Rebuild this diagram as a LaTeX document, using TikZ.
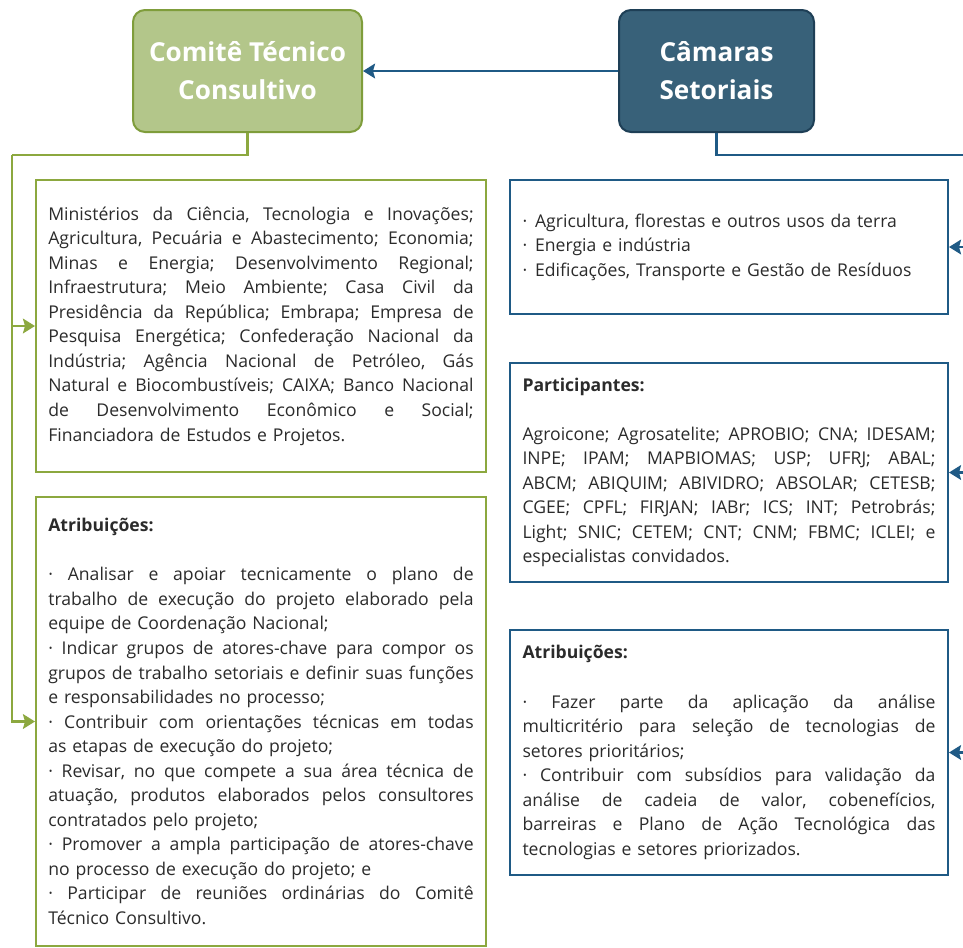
\documentclass[tikz,border=0pt]{standalone}
\usepackage{fontspec}
\setmainfont{Open Sans}
\usetikzlibrary{arrows.meta}
\definecolor{gfill}{HTML}{B3C68A}
\definecolor{gdraw}{HTML}{7F9D3B}
\definecolor{gline}{HTML}{8CA83F}
\definecolor{bfill}{HTML}{386179}
\definecolor{bdraw}{HTML}{1E3F56}
\definecolor{bline}{HTML}{1F5A85}
\definecolor{txt}{HTML}{2B2B2B}
\newcommand{\ljl}[1]{\leavevmode\hbox to 319pt{\frenchspacing\spaceskip=0.26em plus 1fil minus 0.08em\relax #1}\\}
\newcommand{\rjl}[1]{\leavevmode\hbox to 309.75pt{\frenchspacing\spaceskip=0.26em plus 1fil minus 0.08em\relax #1}\\}
\begin{document}
\begin{tikzpicture}[x=0.75pt,y=-0.75pt,
  head/.style={rounded corners=9pt, line width=1.5pt, text=white,
    font=\fontsize{19.6}{28.5}\selectfont\bfseries, align=center, inner sep=0pt},
  ghead/.style={head, fill=gfill, draw=gdraw, minimum width=171.75pt, minimum height=91.5pt},
  bhead/.style={head, fill=bfill, draw=bdraw, minimum width=146.25pt, minimum height=91.5pt},
  body/.style={text=txt, align=left, line width=1.5pt, inner ysep=0pt,
    font=\fontsize{13.2}{18.4}\selectfont},
  lbox/.style={body, draw=gline, minimum width=337.5pt, text width=319pt, inner xsep=9.25pt},
  rbox/.style={body, draw=bline, minimum width=328.5pt, text width=309.75pt, inner xsep=9.375pt},
  gconn/.style={draw=gline, line width=1.9pt},
  bconn/.style={draw=bline, line width=1.9pt},
  garrow/.style={gconn, -{Stealth[length=9pt,width=11pt,inset=1.5pt]}},
  barrow/.style={bconn, -{Stealth[length=9pt,width=11pt,inset=1.5pt]}}
]
\useasboundingbox (0,0) rectangle (963,947);
\fill[white] (0,0) rectangle (963,947);

\node[ghead] (ctc) at (247.5,71) {Comitê Técnico\\Consultivo};
\node[bhead] (cs) at (716.5,71) {Câmaras\\Setoriais};

\node[lbox, minimum height=219pt] (l1) at (261,326) {%
\ljl{Ministérios da Ciência, Tecnologia e Inovações;}
\ljl{Agricultura, Pecuária e Abastecimento; Economia;}
\ljl{Minas e Energia; Desenvolvimento Regional;}
\ljl{Infraestrutura; Meio Ambiente; Casa Civil da}
\ljl{Presidência da República; Embrapa; Empresa de}
\ljl{Pesquisa Energética; Confederação Nacional da}
\ljl{Indústria; Agência Nacional de Petróleo, Gás}
\ljl{Natural e Biocombustíveis; CAIXA; Banco Nacional}
\ljl{de Desenvolvimento Econômico e Social;}
Financiadora de Estudos e Projetos.};

\node[lbox, minimum height=336.75pt] (l2) at (261,721.5) {%
\textbf{Atribuições:}\\[18.4pt]
\ljl{·  Analisar e apoiar tecnicamente o plano de}
\ljl{trabalho de execução do projeto elaborado pela}
equipe de Coordenação Nacional;\\
\ljl{·  Indicar grupos de atores-chave para compor os}
\ljl{grupos de trabalho setoriais e definir suas funções}
e responsabilidades no processo;\\
\ljl{·  Contribuir com orientações técnicas em todas}
as etapas de execução do projeto;\\
\ljl{·  Revisar, no que compete a sua área técnica de}
\ljl{atuação, produtos elaborados pelos consultores}
contratados pelo projeto;\\
\ljl{·  Promover a ampla participação de atores-chave}
no processo de execução do projeto; e\\
\ljl{·  Participar de reuniões ordinárias do Comitê}
Técnico Consultivo.};

\node[rbox, minimum height=100.5pt] (r1) at (729,247) {%
·\hspace{0.45em}Agricultura, florestas e outros usos da terra\\
·\hspace{0.45em}Energia e indústria\\
·\hspace{0.45em}Edificações, Transporte e Gestão de Resíduos};

\node[rbox, minimum height=164.25pt] (r2) at (729,472.5) {%
\textbf{Participantes:}\\[18.4pt]
\rjl{Agroicone; Agrosatelite; APROBIO; CNA; IDESAM;}
\rjl{INPE; IPAM; MAPBIOMAS; USP; UFRJ; ABAL;}
\rjl{ABCM; ABIQUIM; ABIVIDRO; ABSOLAR; CETESB;}
\rjl{CGEE; CPFL; FIRJAN; IABr; ICS; INT; Petrobrás;}
\rjl{Light; SNIC; CETEM; CNT; CNM; FBMC; ICLEI; e}
especialistas convidados.};

\node[rbox, minimum height=183.75pt] (r3) at (729,752.5) {%
\textbf{Atribuições:}\\[18.4pt]
\rjl{·  Fazer parte da aplicação da análise}
\rjl{multicritério para seleção de tecnologias de}
setores prioritários;\\
\rjl{· Contribuir com subsídios para validação da}
\rjl{análise de cadeia de valor, cobenefícios,}
\rjl{barreiras e Plano de Ação Tecnológica das}
tecnologias e setores priorizados.};

\coordinate (g1) at (12,155);
\coordinate (b1) at (975,155);

\draw[barrow] (cs.west) -- (ctc.east);
\draw[gconn] (ctc.south) |- (g1);
\draw[garrow] (g1) |- (l1.west);
\draw[garrow] (g1) |- (l2.west);
\draw[bconn] (cs.south) |- (b1);
\draw[barrow] (b1) |- (r1.east);
\draw[barrow] (b1) |- (r2.east);
\draw[barrow] (b1) |- (r3.east);
\end{tikzpicture}
\end{document}
